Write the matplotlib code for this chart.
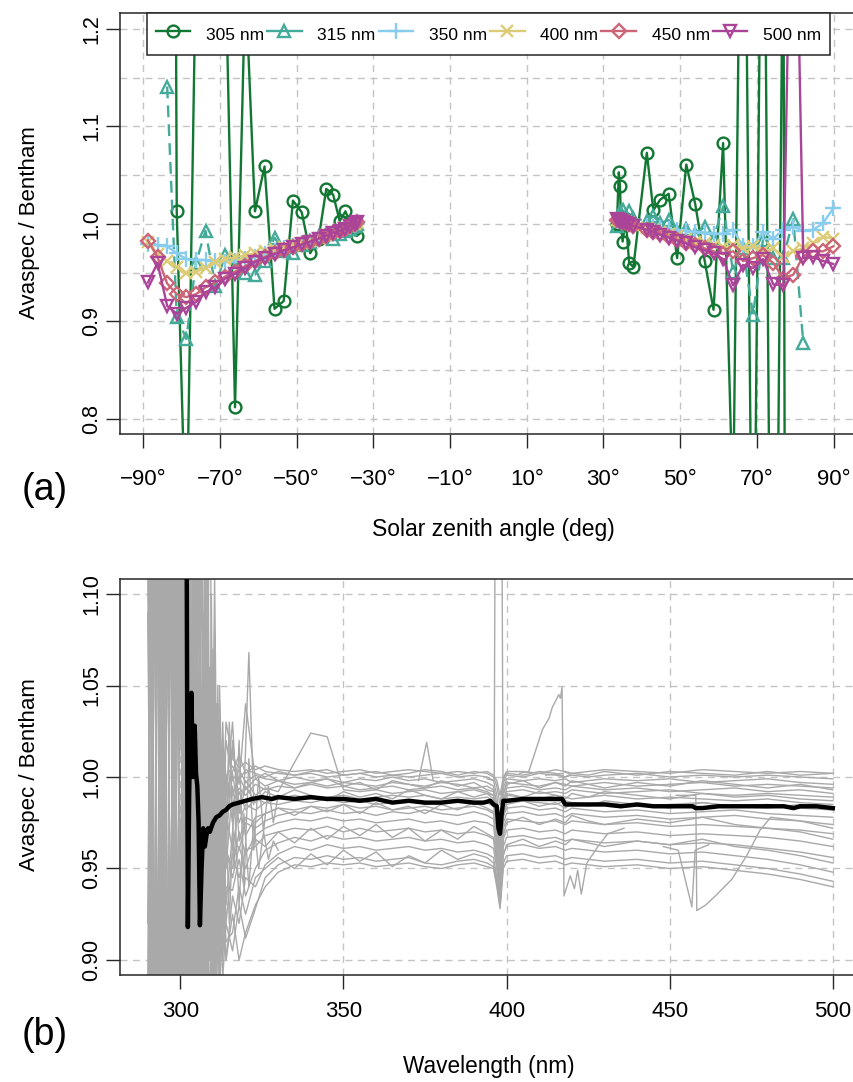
import numpy as np
import matplotlib
matplotlib.use("Agg")
import matplotlib.pyplot as plt
from matplotlib.lines import Line2D

nan = np.nan

# ------------------------------------------------------------
# Panel (a): ratio vs solar zenith angle (morning < 0, afternoon > 0)
# ------------------------------------------------------------

SZA_AM = [-88.8, -86.3, -83.8, -81.3, -78.8, -76.3, -73.8, -71.2, -68.7, -66.1,
          -63.4, -60.9, -58.4, -55.8, -53.4, -51.0, -48.7, -46.5, -44.3, -42.3,
          -40.5, -38.8, -37.3, -36.0, -34.9, -34.3]
SZA_PM = [33.5, 34.0, 34.3, 34.6, 35.0, 35.8, 36.7, 37.8, 41.3, 43.0,
          44.8, 47.0, 49.2, 51.6, 53.9, 56.4, 58.7, 61.2, 63.8, 66.4,
          69.0, 71.6, 74.3, 76.9, 79.5, 82.1, 84.7, 87.3, 89.9]

R305_AM = [nan, nan, 3.5, 1.013, 0.66, 1.27, 1.6, 1.5, 1.29, 0.812,
           1.25, 1.013, 1.059, 0.913, 0.921, 1.024, 1.012, 0.970, 0.985, 1.036,
           1.030, 1.003, 1.013, 1.000, 0.995, 0.988]
R315_AM = [nan, nan, 1.141, 0.905, 0.882, 0.960, 0.993, 0.936, 0.968, 0.955,
           0.950, 0.948, 0.962, 0.986, 0.972, 0.970, 0.978, 0.982, 0.988, 0.990,
           0.985, 0.990, 0.993, 0.995, 0.998, 1.000]
R350_AM = [0.979, 0.978, 0.977, 0.970, 0.964, 0.963, 0.963, 0.962, 0.961, 0.962,
           0.964, 0.966, 0.969, 0.972, 0.975, 0.977, 0.980, 0.983, 0.986, 0.989,
           0.991, 0.993, 0.995, 0.997, 0.999, 1.001]
R400_AM = [0.982, 0.969, 0.962, 0.956, 0.950, 0.951, 0.955, 0.961, 0.964, 0.966,
           0.968, 0.970, 0.972, 0.974, 0.976, 0.978, 0.980, 0.983, 0.986, 0.989,
           0.992, 0.994, 0.996, 0.998, 1.000, 1.002]
R450_AM = [0.983, 0.966, 0.939, 0.928, 0.925, 0.928, 0.935, 0.940, 0.946, 0.951,
           0.957, 0.962, 0.966, 0.970, 0.973, 0.976, 0.979, 0.982, 0.985, 0.988,
           0.991, 0.993, 0.995, 0.998, 1.000, 1.002]
R500_AM = [0.940, 0.960, 0.916, 0.908, 0.914, 0.920, 0.930, 0.935, 0.944, 0.949,
           0.955, 0.961, 0.965, 0.969, 0.973, 0.976, 0.979, 0.982, 0.985, 0.988,
           0.991, 0.993, 0.995, 0.998, 1.000, 1.002]

R305_PM = [1.000, 1.053, 1.039, 0.998, 0.982, 1.005, 0.960, 0.956, 1.073, 1.014,
           1.025, 1.031, 0.965, 1.061, 1.021, 0.962, 0.912, 1.083, 0.70, 1.60,
           0.50, 1.55, 0.20, 1.35, -3.0, nan, nan, nan, nan]
R315_PM = [0.998, 1.005, 1.012, 1.010, 1.014, 1.008, 1.013, 1.006, 1.003, 1.008,
           1.001, 1.004, 0.993, 0.995, 0.990, 0.997, 0.985, 1.018, 0.951, 0.975,
           0.907, 0.984, 0.965, 0.965, 1.005, 0.878, nan, nan, nan]
R350_PM = [1.003, 1.003, 1.003, 1.003, 1.002, 1.002, 1.001, 1.000, 0.998, 0.997,
           0.996, 0.995, 0.994, 0.993, 0.992, 0.991, 0.990, 0.990, 0.994, 0.977,
           0.977, 0.992, 0.985, 0.994, 0.997, 0.993, 0.994, 1.001, 1.016]
R400_PM = [1.004, 1.004, 1.003, 1.003, 1.003, 1.002, 1.001, 0.999, 0.996, 0.994,
           0.992, 0.990, 0.988, 0.985, 0.982, 0.980, 0.978, 0.976, 0.978, 0.975,
           0.977, 0.972, 0.975, 0.966, 0.972, 0.975, 0.980, 0.987, 0.985]
R450_PM = [1.004, 1.004, 1.003, 1.003, 1.002, 1.001, 1.000, 0.998, 0.994, 0.992,
           0.990, 0.987, 0.984, 0.981, 0.978, 0.975, 0.972, 0.969, 0.972, 0.962,
           0.965, 0.968, 0.960, 0.944, 0.948, 0.967, 0.972, 0.972, 0.977]
R500_PM = [1.005, 1.004, 1.003, 1.003, 1.002, 1.001, 1.000, 0.998, 0.994, 0.992,
           0.989, 0.986, 0.983, 0.980, 0.976, 0.973, 0.970, 0.964, 0.937, 0.958,
           0.955, 0.964, 0.938, 0.937, 1.50, 0.965, 0.966, 0.962, 0.959]

SERIES_LABELS = ["305 nm", "315 nm", "350 nm", "400 nm", "450 nm", "500 nm"]
SERIES_COLORS = ["#117733", "#44AA99", "#88CCEE", "#DDCC77", "#CC6677", "#AA4499"]
SERIES_MARKERS = ["o", "^", "+", "x", "D", "v"]

SZA_TICKS = [-90, -70, -50, -30, -10, 10, 30, 50, 70, 90]
SZA_TICK_LABELS = ["\u221290\u00b0", "\u221270\u00b0", "\u221250\u00b0", "\u221230\u00b0",
                   "\u221210\u00b0", "10\u00b0", "30\u00b0", "50\u00b0", "70\u00b0", "90\u00b0"]
RATIO_TICKS_A = [0.8, 0.9, 1.0, 1.1, 1.2]
RATIO_LABELS_A = ["0.8", "0.9", "1.0", "1.1", "1.2"]

# ------------------------------------------------------------
# Panel (b): ratio spectra (grey) and their mean (black)
# ------------------------------------------------------------

WL_GRID = [290, 291, 292, 293, 294, 295, 296, 297, 298, 299, 300, 301, 302, 303, 304,
           305, 306, 307, 308, 309, 310, 311, 312, 313, 314,
           316, 318, 320, 323, 326, 330, 335, 340, 345, 350, 355, 360, 365, 370, 375,
           380, 385, 390, 394, 396, 397, 398, 399, 400, 405, 410, 415, 418, 420, 425,
           430, 440, 450, 460, 470, 480, 490, 500]

SPEC_01 = [1.42, 0.62, 1.30, 0.71, 1.38, 0.66, 1.25, 0.78, 1.33, 0.69, 1.21, 0.80, 1.18, 0.84, 1.16, 0.86, 1.12, 0.90, 1.10, 0.93, 1.07, 0.97, 1.05, 0.98, 1.03,
           1.010, 1.005, 1.008, 1.004, 1.006, 1.004, 1.003, 1.004, 1.002, 1.003, 1.004, 1.002, 1.003, 1.004, 1.003, 1.002, 1.003, 1.002, 1.003, 1.001, 0.998, 0.990, 1.000, 1.003, 1.003, 1.002, 1.004, 1.003, 1.002, 1.003, 1.004, 1.003, 1.002, 1.004, 1.003, 1.002, 1.003, 1.002]
SPEC_02 = [0.58, 1.36, 0.72, 1.27, 0.64, 1.31, 0.75, 1.24, 0.68, 1.29, 0.79, 1.19, 0.83, 1.15, 0.86, 1.13, 0.89, 1.09, 0.92, 1.06, 0.95, 1.04, 0.97, 1.02, 0.99,
           1.003, 1.012, 1.002, 1.006, 1.003, 1.002, 1.001, 1.002, 1.000, 1.001, 1.002, 1.000, 1.001, 1.000, 1.001, 1.002, 1.000, 1.001, 1.000, 0.998, 0.990, 0.975, 0.997, 1.001, 1.000, 1.002, 1.001, 1.000, 1.001, 1.000, 1.001, 1.002, 1.000, 1.001, 1.000, 1.001, 1.000, 0.999]
SPEC_03 = [1.22, 0.80, 1.17, 0.85, 1.26, 0.77, 1.14, 0.88, 1.20, 0.82, 1.13, 0.87, 1.11, 0.90, 1.09, 0.91, 1.08, 0.93, 1.06, 0.94, 1.04, 0.96, 1.03, 0.97, 1.02,
           0.998, 1.004, 0.997, 1.001, 0.999, 0.998, 1.000, 0.998, 0.999, 0.997, 0.999, 0.998, 1.000, 0.998, 0.999, 0.997, 0.998, 0.999, 0.997, 0.995, 0.985, 0.968, 0.994, 0.999, 0.998, 0.999, 0.998, 0.999, 0.997, 0.998, 0.999, 0.998, 0.999, 0.997, 0.998, 0.999, 0.997, 0.996]
SPEC_04 = [0.83, 1.19, 0.78, 1.24, 0.86, 1.16, 0.81, 1.21, 0.87, 1.15, 0.84, 1.12, 0.88, 1.10, 0.90, 1.08, 0.92, 1.07, 0.93, 1.05, 0.95, 1.03, 0.96, 1.02, 0.98,
           1.015, 0.996, 1.040, 0.999, 1.002, 0.998, 0.996, 0.997, 0.995, 0.997, 0.996, 0.995, 0.997, 0.996, 0.995, 0.997, 0.996, 0.994, 0.995, 0.993, 0.980, 0.962, 0.990, 0.997, 0.996, 0.995, 0.997, 0.996, 0.995, 0.996, 0.997, 0.995, 0.996, 0.997, 0.995, 0.996, 0.995, 0.994]
SPEC_05 = [1.31, 0.66, 1.40, 0.60, 1.27, 0.73, 1.34, 0.70, 1.23, 0.76, 1.20, 0.81, 1.16, 0.85, 1.13, 0.88, 1.10, 0.91, 1.15, 0.95, 1.058, 0.94, 1.02, 0.95, 1.00,
           0.985, 0.994, 0.990, 0.996, 0.993, 0.995, 0.994, 0.996, 0.994, 0.995, 0.993, 0.994, 0.995, 0.993, 0.994, 0.995, 0.993, 0.994, 0.992, 0.990, 0.975, 0.955, 0.985, 0.994, 0.995, 0.993, 0.994, 0.993, 0.995, 0.994, 0.993, 0.994, 0.992, 0.993, 0.994, 0.992, 0.993, 0.991]
SPEC_06 = [0.69, 1.29, 0.63, 1.37, 0.74, 1.22, 0.67, 1.30, 0.77, 1.18, 0.82, 1.17, 0.86, 1.12, 0.89, 1.10, 0.92, 1.08, 0.94, 1.20, 0.93, 1.04, 0.95, 1.03, 0.96,
           1.020, 0.985, 0.998, 0.990, 0.994, 0.992, 1.008, 1.024, 1.022, 0.993, 0.992, 0.993, 0.991, 0.992, 0.993, 0.991, 0.992, 0.993, 0.991, 0.990, 0.978, 0.958, 0.988, 0.992, 0.993, 0.991, 0.992, 0.991, 0.993, 0.992, 0.991, 0.992, 0.993, 0.991, 0.990, 0.991, 0.990, 0.989]
SPEC_07 = [1.18, 0.84, 1.23, 0.79, 1.15, 0.86, 1.19, 0.80, 1.14, 0.87, 1.12, 0.89, 1.10, 0.91, 1.08, 0.92, 1.07, 0.94, 1.05, 0.95, 1.04, 0.96, 1.02, 0.96, 1.00,
           0.975, 0.992, 0.982, 0.988, 0.986, 0.988, 0.990, 0.988, 0.989, 0.990, 0.988, 0.989, 0.990, 0.989, 0.990, 0.988, 0.989, 0.988, 0.989, 0.987, 0.975, 0.950, 0.984, 0.990, 0.989, 0.988, 0.990, 0.989, 0.988, 0.989, 0.990, 0.988, 0.989, 0.988, 0.987, 0.988, 0.986, 0.985]
SPEC_08 = [0.78, 1.25, 0.71, 1.32, 0.80, 1.20, 0.74, 1.26, 0.82, 1.17, 0.85, 1.14, 0.88, 1.11, 0.90, 1.09, 0.93, 1.06, 0.94, 1.04, 0.92, 1.03, 0.93, 1.01, 0.95,
           0.995, 0.975, 0.985, 0.982, 0.986, 0.985, 0.987, 0.986, 0.988, 0.986, 0.987, 0.985, 0.986, 0.987, 0.985, 0.986, 0.987, 0.985, 0.986, 0.984, 0.970, 0.945, 0.980, 0.986, 0.987, 0.986, 0.985, 0.987, 0.986, 0.985, 0.986, 0.984, 0.985, 0.986, 0.984, 0.985, 0.983, 0.982]
SPEC_09 = [1.27, 0.74, 1.20, 0.81, 1.33, 0.69, 1.17, 0.83, 1.24, 0.78, 1.15, 0.86, 1.12, 0.88, 1.09, 0.90, 1.06, 0.92, 1.04, 0.93, 1.02, 0.92, 1.00, 0.93, 0.98,
           0.960, 0.985, 0.968, 0.978, 0.980, 0.983, 0.982, 0.984, 0.983, 0.985, 0.983, 0.984, 0.982, 0.983, 0.984, 0.982, 0.983, 0.984, 0.982, 0.980, 0.965, 0.940, 0.978, 0.983, 0.984, 0.982, 0.983, 0.981, 0.983, 0.982, 0.981, 0.982, 0.980, 0.981, 0.982, 0.980, 0.979, 0.978]
SPEC_10 = [0.64, 1.34, 0.70, 1.21, 0.61, 1.39, 0.76, 1.23, 0.72, 1.19, 0.80, 1.16, 0.84, 1.13, 0.87, 1.10, 0.89, 1.07, 0.91, 1.05, 0.92, 1.02, 0.91, 0.99, 0.93,
           0.970, 0.960, 0.975, 0.972, 0.976, 0.979, 0.981, 0.980, 0.982, 0.980, 0.981, 0.979, 0.981, 0.980, 0.982, 0.980, 0.979, 0.981, 0.979, 0.977, 0.962, 0.935, 0.975, 0.980, 0.981, 0.979, 0.980, 0.978, 0.980, 0.979, 0.978, 0.979, 0.977, 0.978, 0.979, 0.977, 0.976, 0.974]
SPEC_11 = [1.16, 0.87, 1.21, 0.82, 1.13, 0.89, 1.18, 0.85, 1.11, 0.88, 1.09, 0.90, 1.07, 0.91, 1.05, 0.90, 1.04, 0.91, 1.02, 0.90, 1.00, 0.90, 0.98, 0.91, 0.96,
           0.950, 0.970, 0.958, 0.968, 0.972, 0.975, 0.977, 0.976, 0.978, 0.976, 0.977, 0.975, 0.976, 0.977, 0.975, 0.976, 0.974, 0.976, 0.975, 0.973, 0.958, 0.932, 0.972, 0.977, 0.976, 0.975, 0.976, 0.974, 0.976, 0.975, 0.974, 0.975, 0.973, 0.974, 0.973, 0.972, 0.971, 0.969]
SPEC_12 = [0.81, 1.22, 0.76, 1.28, 0.84, 1.14, 0.79, 1.20, 0.85, 1.13, 0.83, 1.10, 0.86, 1.06, 0.88, 1.04, 0.89, 1.03, 0.89, 1.01, 0.89, 0.99, 0.90, 0.97, 0.92,
           0.958, 0.945, 0.960, 0.962, 0.968, 0.970, 0.972, 0.971, 0.973, 0.970, 0.972, 0.970, 0.971, 0.972, 0.970, 0.971, 0.969, 0.970, 0.968, 0.966, 0.952, 0.930, 0.966, 0.971, 0.972, 0.970, 0.971, 0.969, 0.971, 0.970, 0.969, 0.970, 0.968, 0.969, 0.968, 0.967, 0.965, 0.962]
SPEC_13 = [1.36, 0.68, 1.29, 0.73, 1.19, 0.79, 1.28, 0.75, 1.16, 0.84, 1.12, 0.87, 1.08, 0.89, 1.05, 0.90, 1.03, 0.89, 1.01, 0.90, 0.98, 0.89, 0.96, 0.90, 0.94,
           0.938, 0.955, 0.935, 0.950, 0.960, 0.964, 0.967, 0.965, 0.968, 0.966, 0.967, 0.965, 0.966, 0.967, 0.965, 0.966, 0.964, 0.965, 0.963, 0.961, 0.950, 0.935, 0.962, 0.967, 0.968, 0.966, 0.967, 0.965, 0.966, 0.965, 0.964, 0.965, 0.963, 0.964, 0.963, 0.961, 0.959, 0.956]
SPEC_14 = [0.73, 1.30, 0.67, 1.18, 0.76, 1.25, 0.71, 1.15, 0.80, 1.14, 0.86, 1.08, 0.88, 1.05, 0.87, 1.02, 0.88, 1.00, 0.87, 0.99, 0.88, 0.97, 0.89, 0.95, 0.90,
           0.935, 0.920, 0.945, 0.940, 0.952, 0.958, 0.962, 0.960, 0.963, 0.961, 0.962, 0.960, 0.961, 0.962, 0.960, 0.961, 0.959, 0.960, 0.958, 0.956, 0.945, 0.932, 0.958, 0.962, 0.963, 0.961, 0.962, 0.960, 0.961, 0.960, 0.959, 0.960, 0.958, 0.959, 0.957, 0.955, 0.952, 0.948]
SPEC_15 = [1.25, 0.77, 1.32, 0.72, 1.22, 0.81, 1.16, 0.78, 1.21, 0.83, 1.10, 0.85, 1.06, 0.86, 1.03, 0.87, 1.00, 0.86, 0.98, 0.87, 0.96, 0.88, 0.94, 0.89, 0.92,
           0.905, 0.930, 0.912, 0.928, 0.945, 0.952, 0.956, 0.955, 0.957, 0.955, 0.956, 0.954, 0.955, 0.956, 0.953, 0.952, 0.954, 0.955, 0.953, 0.951, 0.942, 0.929, 0.953, 0.957, 0.958, 0.956, 0.957, 0.955, 0.956, 0.955, 0.954, 0.955, 0.953, 0.954, 0.952, 0.950, 0.947, 0.943]
SPEC_16 = [0.66, 1.27, 0.74, 1.35, 0.69, 1.17, 0.82, 1.24, 0.77, 1.11, 0.84, 1.07, 0.85, 1.03, 0.86, 1.00, 0.85, 0.98, 0.86, 0.96, 0.87, 0.95, 0.88, 0.93, 0.90,
           0.925, 0.900, 0.915, 0.930, 0.940, 0.948, 0.952, 0.951, 0.953, 0.952, 0.953, 0.951, 0.952, 0.953, 0.951, 0.950, 0.952, 0.953, 0.951, 0.950, 0.940, 0.928, 0.950, 0.954, 0.955, 0.953, 0.954, 0.952, 0.953, 0.952, 0.951, 0.952, 0.950, 0.951, 0.949, 0.947, 0.944, 0.940]
SPEC_17 = [0.92, 1.14, 0.88, 1.19, 0.94, 1.12, 0.85, 1.22, 0.90, 1.16, 0.93, 1.10, 0.95, 1.08, 0.91, 1.06, 0.96, 1.05, 0.97, 1.04, 0.98, 1.03, 0.99, 1.02, 1.00,
           1.006, 0.998, 1.004, 1.002, 1.000, 1.003, 1.001, 1.003, 1.004, 1.001, 1.002, 1.003, 1.001, 1.002, 1.004, 1.003, 1.001, 1.003, 1.002, 1.000, 0.995, 0.985, 0.999, 1.002, 1.001, 1.003, 1.002, 1.000, 1.002, 1.001, 1.003, 1.001, 1.003, 1.002, 1.001, 1.003, 1.001, 1.002]
SPEC_18 = [1.09, 0.90, 1.13, 0.86, 1.07, 0.92, 1.15, 0.87, 1.10, 0.91, 1.06, 0.93, 1.09, 0.90, 1.05, 0.94, 1.04, 0.95, 1.03, 0.96, 1.02, 0.97, 1.01, 0.98, 0.99,
           0.990, 1.000, 0.993, 0.999, 0.995, 0.998, 0.994, 0.997, 0.999, 0.995, 0.997, 0.993, 0.998, 0.996, 0.994, 0.998, 0.995, 0.997, 0.993, 0.992, 0.982, 0.960, 0.991, 0.996, 0.998, 0.994, 0.997, 0.995, 0.998, 0.996, 0.994, 0.997, 0.995, 0.998, 0.996, 0.994, 0.996, 0.993]
SPEC_19 = [0.86, 1.17, 0.82, 1.12, 0.89, 1.20, 0.84, 1.13, 0.88, 1.11, 0.90, 1.09, 0.87, 1.07, 0.92, 1.05, 0.93, 1.04, 0.95, 1.03, 0.96, 1.01, 0.95, 1.00, 0.97,
           1.002, 0.980, 0.995, 0.986, 0.992, 0.989, 0.993, 0.990, 0.987, 0.992, 0.989, 0.991, 0.988, 0.993, 0.990, 0.988, 0.992, 0.989, 0.991, 0.988, 0.972, 0.948, 0.986, 0.991, 0.989, 0.992, 0.990, 0.988, 0.991, 0.989, 0.992, 0.990, 0.988, 0.991, 0.989, 0.990, 0.988, 0.987]
SPEC_20 = [1.20, 0.79, 1.26, 0.74, 1.17, 0.82, 1.22, 0.77, 1.14, 0.84, 1.11, 0.86, 1.08, 0.88, 1.06, 0.89, 1.04, 0.90, 1.02, 0.91, 1.00, 0.92, 0.98, 0.93, 0.96,
           0.945, 0.962, 0.950, 0.966, 0.962, 0.970, 0.964, 0.972, 0.966, 0.973, 0.968, 0.974, 0.967, 0.972, 0.965, 0.971, 0.966, 0.973, 0.969, 0.967, 0.955, 0.938, 0.968, 0.975, 0.978, 0.974, 0.977, 0.975, 0.979, 0.976, 0.974, 0.977, 0.975, 0.978, 0.974, 0.972, 0.970, 0.966]
SPEC_21 = [0.71, 1.24, 0.65, 1.31, 0.78, 1.19, 0.72, 1.27, 0.81, 1.12, 0.85, 1.07, 0.84, 1.04, 0.86, 1.01, 0.87, 0.99, 0.88, 0.97, 0.89, 0.96, 0.88, 0.94, 0.91,
           0.915, 0.940, 0.925, 0.945, 0.950, 0.956, 0.950, 0.958, 0.952, 0.960, 0.954, 0.959, 0.951, 0.957, 0.953, 0.960, 0.955, 0.958, 0.956, 0.953, 0.944, 0.930, 0.957, 0.963, 0.966, 0.962, 0.965, 0.963, 0.966, 0.964, 0.962, 0.965, 0.963, 0.966, 0.962, 0.960, 0.957, 0.953]
SPEC_22 = [1.13, 0.88, 1.18, 0.83, 1.24, 0.80, 1.12, 0.89, 1.17, 0.85, 1.08, 0.90, 1.05, 0.92, 1.07, 0.91, 1.03, 0.94, 1.08, 0.93, 1.03, 0.95, 1.01, 0.94, 0.99,
           1.030, 0.965, 0.978, 0.975, 0.980, 0.983, 0.979, 0.984, 0.981, 0.985, 0.980, 0.986, 0.982, 0.984, 0.980, 0.985, 0.982, 0.986, 0.983, 0.981, 0.968, 0.942, 0.979, 0.985, 0.987, 0.984, 0.986, 0.983, 0.986, 0.984, 0.987, 0.985, 0.983, 0.986, 0.984, 0.983, 0.985, 0.982]

# half-nm noise pieces in the low-signal UV region
NOISE_WL = [300.5, 301.5, 302.5, 303.5, 304.5, 305.5, 306.5, 307.5, 308.5, 309.5, 310.5, 311.5]
NOISE_A = [1.25, 0.78, 1.22, 0.80, 1.18, 0.83, 1.15, 0.86, 1.12, 0.88, 1.08, 0.90]
NOISE_B = [0.75, 1.28, 0.79, 1.20, 0.82, 1.17, 0.85, 1.13, 0.87, 1.10, 0.89, 1.05]
NOISE_C = [1.16, 0.85, 1.30, 0.76, 1.14, 0.88, 1.19, 0.84, 1.07, 0.91, 1.11, 0.93]
NOISE_D = [0.88, 1.14, 0.83, 1.24, 0.86, 1.13, 0.90, 1.16, 0.89, 1.06, 0.92, 1.04]
NOISE2_WL = [312.0, 313.5, 315.0, 316.5, 318.0, 319.5, 321.0, 322.5, 324.0, 325.5, 327.0, 328.5, 330.0]
NOISE_E = [1.04, 0.93, 1.03, 0.95, 1.02, 0.94, 1.01, 0.96, 1.00, 0.97, 0.995, 0.975, 0.990]
NOISE_F = [0.90, 1.01, 0.92, 0.99, 0.93, 0.98, 0.94, 0.975, 0.95, 0.970, 0.955, 0.965, 0.960]

# short anomalous pieces of single spectra
SPIKE_321_WL = [319.5, 321.0, 322.5]
SPIKE_321 = [0.990, 1.068, 0.985]
SPIKE_375_WL = [373.0, 375.5, 377.5]
SPIKE_375 = [0.998, 1.019, 0.998]
SPIKE_398_WL = [394.0, 396.2, 396.8, 398.2, 398.9, 400.0]
SPIKE_398 = [0.999, 0.998, 1.300, 1.300, 0.998, 0.999]
RAMP_417_WL = [404.0, 406.8, 409.0, 411.0, 413.0, 414.0, 416.0, 416.5, 417.0, 417.3, 419.0]
RAMP_417 = [1.002, 1.003, 1.015, 1.026, 1.032, 1.038, 1.045, 1.043, 1.049, 1.003, 1.002]
DIP_418_WL = [412.0, 417.3, 417.6, 419.5, 420.8, 421.8, 422.9, 424.6, 428.0, 431.0, 436.0]
DIP_418 = [1.001, 1.002, 0.935, 0.946, 0.939, 0.949, 0.936, 0.953, 0.962, 0.969, 0.972]
DIP_457_WL = [448.0, 452.6, 456.8, 457.8, 462.0]
DIP_457 = [0.962, 0.960, 0.929, 0.960, 0.963]
DIP_459_WL = [452.0, 458.0, 458.3, 461.0, 464.0, 469.0, 473.6, 477.7, 481.0, 490.0, 500.0]
DIP_459 = [0.990, 0.990, 0.927, 0.930, 0.935, 0.944, 0.957, 0.971, 0.978, 0.976, 0.972]

WL_MEAN = [301.8, 302.3, 302.7, 303.0, 303.4, 303.8, 304.1, 304.4, 304.8, 305.2,
           305.6, 306.0, 306.5, 307.0, 307.5, 308.0, 308.5, 309.0, 310, 311,
           312, 313, 314, 315, 316, 318, 320, 322, 325, 328,
           330, 335, 340, 345, 350, 355, 360, 365, 370, 375,
           380, 385, 390, 393, 395, 396, 397, 397.5, 398, 398.5,
           399, 400, 405, 410, 415, 417, 418, 420, 425, 430,
           435, 440, 445, 450, 455, 457, 458, 460, 465, 470,
           475, 480, 485, 488, 490, 495, 500]
MEAN_RATIO = [1.20, 0.918, 0.99, 1.02, 1.046, 1.000, 1.010, 1.028, 1.002, 0.995,
              0.975, 0.919, 0.950, 0.972, 0.962, 0.968, 0.972, 0.970, 0.975, 0.978,
              0.979, 0.981, 0.982, 0.984, 0.985, 0.986, 0.987, 0.988, 0.989, 0.988,
              0.989, 0.988, 0.989, 0.988, 0.988, 0.987, 0.988, 0.986, 0.987, 0.986,
              0.986, 0.987, 0.986, 0.986, 0.987, 0.985, 0.984, 0.972, 0.969, 0.980,
              0.987, 0.987, 0.988, 0.988, 0.988, 0.988, 0.985, 0.985, 0.985, 0.985,
              0.984, 0.985, 0.984, 0.984, 0.984, 0.984, 0.983, 0.983, 0.984, 0.984,
              0.984, 0.984, 0.984, 0.983, 0.984, 0.984, 0.983]

WL_TICKS = [300, 350, 400, 450, 500]
RATIO_TICKS_B = [0.90, 0.95, 1.00, 1.05, 1.10]
RATIO_LABELS_B = ["0.90", "0.95", "1.00", "1.05", "1.10"]

GRID_COLOR = "#c4c4c4"
SPINE_COLOR = "#262626"
GREY_LINE = "#a9a9a9"

plt.rcParams["font.family"] = ["Liberation Sans", "DejaVu Sans"]


def style_axes(ax, xlabel_size, ylabel_size, xpad, ypad):
    for spine in ax.spines.values():
        spine.set_linewidth(1.1)
        spine.set_color(SPINE_COLOR)
    ax.grid(True, which="both", color=GRID_COLOR, linestyle=(0, (5, 4)), linewidth=1.0)
    ax.set_axisbelow(True)
    ax.tick_params(which="minor", length=0)
    ax.tick_params(which="major", length=10, width=1.0, color=SPINE_COLOR)
    ax.tick_params(axis="x", labelsize=xlabel_size, pad=xpad)
    ax.tick_params(axis="y", labelsize=ylabel_size, pad=ypad)
    for lab in ax.get_yticklabels():
        lab.set_rotation(90)
        lab.set_va("center")


fig = plt.figure(figsize=(8.54, 10.82), dpi=100)

# ---------------- panel (a) ----------------
ax1 = fig.add_axes([120 / 854, 1 - 434 / 1082, 735 / 854, 421 / 1082])

am_values = [R305_AM, R315_AM, R350_AM, R400_AM, R450_AM, R500_AM]
pm_values = [R305_PM, R315_PM, R350_PM, R400_PM, R450_PM, R500_PM]
marker_sizes = [8.5, 9, 11.5, 8.5, 7.5, 9]
line_styles = ["-", (0, (5, 3)), "-", "-", "-", "-"]

for i in range(len(SERIES_LABELS)):
    for sza, vals in ((SZA_AM, am_values[i]), (SZA_PM, pm_values[i])):
        ax1.plot(sza, vals, color=SERIES_COLORS[i], linestyle=line_styles[i], linewidth=1.7,
                 marker=SERIES_MARKERS[i], markersize=marker_sizes[i],
                 markerfacecolor="none", markeredgewidth=1.7, zorder=3 + i)

ax1.set_xlim(-96.1, 95.6)
ax1.set_ylim(0.7846, 1.2164)
ax1.set_xticks(SZA_TICKS)
ax1.set_xticklabels(SZA_TICK_LABELS)
ax1.set_yticks(RATIO_TICKS_A)
ax1.set_yticklabels(RATIO_LABELS_A)
ax1.set_yticks([0.85, 0.95, 1.05, 1.15], minor=True)
style_axes(ax1, 16, 15.5, 15, 3)

handles = [Line2D([], [], color=SERIES_COLORS[i], linewidth=1.7, marker=SERIES_MARKERS[i],
                  markersize=marker_sizes[i], markerfacecolor="none", markeredgewidth=1.7)
           for i in range(len(SERIES_LABELS))]
leg = ax1.legend(handles, SERIES_LABELS, ncol=6, loc="upper left",
                 bbox_to_anchor=(0.0367, 1.0), frameon=True, fancybox=False,
                 edgecolor=SPINE_COLOR, framealpha=1.0, fontsize=12.5,
                 handlelength=2.0, handleheight=1.8, handletextpad=0.9,
                 columnspacing=0.17, borderpad=0.5, borderaxespad=0.0)
leg.get_frame().set_linewidth(1.1)
leg.set_zorder(20)

# ---------------- panel (b) ----------------
ax2 = fig.add_axes([120 / 854, 1 - 975 / 1082, 735 / 854, 396 / 1082])

grey_spectra = [SPEC_01, SPEC_02, SPEC_03, SPEC_04, SPEC_05, SPEC_06, SPEC_07, SPEC_08,
                SPEC_09, SPEC_10, SPEC_11, SPEC_12, SPEC_13, SPEC_14, SPEC_15, SPEC_16,
                SPEC_17, SPEC_18, SPEC_19, SPEC_20, SPEC_21, SPEC_22]
for spec in grey_spectra:
    ax2.plot(WL_GRID, spec, color=GREY_LINE, linewidth=1.0, zorder=2)

pieces = [(NOISE_WL, NOISE_A), (NOISE_WL, NOISE_B), (NOISE_WL, NOISE_C), (NOISE_WL, NOISE_D),
          (NOISE2_WL, NOISE_E), (NOISE2_WL, NOISE_F),
          (SPIKE_321_WL, SPIKE_321), (SPIKE_375_WL, SPIKE_375), (SPIKE_398_WL, SPIKE_398),
          (RAMP_417_WL, RAMP_417), (DIP_418_WL, DIP_418), (DIP_457_WL, DIP_457),
          (DIP_459_WL, DIP_459)]
for wl, vals in pieces:
    ax2.plot(wl, vals, color=GREY_LINE, linewidth=1.0, zorder=2)

ax2.plot(WL_MEAN, MEAN_RATIO, color="black", linewidth=3.2, zorder=4)

ax2.set_xlim(281.5, 506.8)
ax2.set_ylim(0.8918, 1.1082)
ax2.set_xticks(WL_TICKS)
ax2.set_xticklabels([str(w) for w in WL_TICKS])
ax2.set_yticks(RATIO_TICKS_B)
ax2.set_yticklabels(RATIO_LABELS_B)
style_axes(ax2, 16, 15.5, 9, 3)

# ---------------- labels ----------------
fig.text(0.035, 1 - 223 / 1082, "Avaspec / Bentham", rotation=90, ha="center", va="center", fontsize=16)
fig.text(0.035, 1 - 775 / 1082, "Avaspec / Bentham", rotation=90, ha="center", va="center", fontsize=16)
fig.text(493 / 854, 1 - 529 / 1082, "Solar zenith angle (deg)", ha="center", va="center", fontsize=16.5)
fig.text(489 / 854, 1 - 1067 / 1082, "Wavelength (nm)", ha="center", va="center", fontsize=16.3)
fig.text(45 / 854, 1 - 490 / 1082, "(a)", ha="center", va="center", fontsize=27)
fig.text(45 / 854, 1 - 1035 / 1082, "(b)", ha="center", va="center", fontsize=27)

fig.savefig("out.png", dpi=100)
